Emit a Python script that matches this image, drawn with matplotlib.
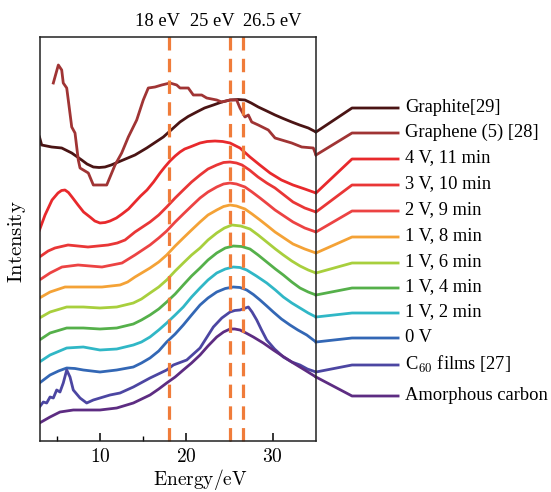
import matplotlib
matplotlib.use("Agg")
import matplotlib.pyplot as plt

plt.rcParams["mathtext.fontset"] = "cm"
plt.rcParams["font.family"] = ["Liberation Serif", "DejaVu Serif"]

# ---- spectra: energy (eV) and stacked intensity (arb. units) ----
graphite_e = [3.0, 3.25, 4.41, 5.57, 6.73, 7.88, 8.5, 9.23, 9.9, 10.58, 11.3, 12.12, 14.05,
              15.41, 17.33, 19.26, 20.2, 21.19, 22.1, 23.12, 24.1, 25.05, 26.0, 26.78, 27.5,
              28.32, 29.3, 30.26, 31.2, 32.19, 33.1, 34.11, 35.0]
graphite_i = [304, 296, 294, 293, 288, 281, 277, 274, 273.5, 274, 276, 279, 286,
              293, 304, 319, 324.5, 329, 333, 336, 339, 341, 341.5, 341, 338,
              334, 330, 326, 322.5, 319, 316, 313, 309]

graphene_e = [4.6, 5.18, 5.57, 5.75, 6.15, 6.33, 6.73, 7.11, 7.49, 7.69, 8.65, 9.23, 10.78,
              11.74, 12.51, 13.28, 14.25, 15.01, 15.59, 16.37, 17.14, 18.1, 18.88, 19.26,
              20.22, 20.8, 21.77, 22.35, 23.51, 24.09, 25.05, 25.82, 26.2, 26.78, 27.17,
              27.56, 28.32, 29.48, 30.26, 31.03, 32.19, 33.35, 34.69, 35.0]
graphene_i = [358, 376, 371, 358, 353, 341, 314, 308, 281, 273, 268, 256, 256,
              276, 288, 304, 321, 341, 353, 354, 356, 358, 356, 353,
              353, 346, 346, 343, 341, 339, 341, 341, 333, 324, 326,
              319, 316, 311, 303, 301, 298, 294, 293, 286]

v4_e = [3.0, 3.64, 4.45, 5.14, 5.55, 5.95, 6.35, 6.76, 7.46, 8.1, 8.84, 9.4, 10.0, 10.6,
        11.16, 11.9, 12.55, 13.3, 14.05, 14.7, 15.44, 16.2, 16.95, 17.5, 18.1, 18.7, 19.26,
        19.8, 20.42, 21.58, 22.4, 23.31, 24.2, 25.05, 26.2, 27.36, 28.5, 29.68, 31.0,
        32.34, 33.7, 35.0]
v4_i = [211, 226, 241, 248, 250.5, 251, 248.5, 244, 236, 229, 224, 220, 218, 218.5,
        220, 223, 227, 232, 239, 245, 251, 259, 268, 274, 280, 285, 289,
        292, 294, 298, 299.5, 300, 299.5, 298, 293, 284, 276, 268, 261,
        256, 252, 248]

v3_e = [3.0, 4.0, 4.79, 6.3, 8.61, 10.93, 12.0, 12.9, 14.05, 15.79, 16.8, 17.72, 18.7,
        19.64, 20.6, 21.58, 22.5, 23.51, 24.3, 25.05, 25.8, 26.44, 27.3, 28.29, 29.3,
        30.26, 31.3, 32.34, 33.7, 35.0]
v3_i = [184, 190, 193, 196, 194, 196, 198, 201, 209, 219, 226, 234, 243,
        251, 259, 266, 272, 276, 278.5, 279, 278, 276, 271, 264, 258,
        253, 246, 239, 233, 229]

v2_e = [3.0, 4.22, 5.6, 7.46, 10.23, 12.55, 14.05, 15.79, 16.8, 17.72, 18.7, 19.64, 20.6,
        21.58, 22.5, 23.51, 24.3, 25.05, 25.8, 26.78, 27.6, 28.52, 29.4, 30.26, 31.3,
        32.34, 33.7, 35.0]
v2_i = [161, 168, 174, 176, 174, 178, 186, 196, 203, 210, 219, 227, 235,
        243, 249, 254, 257, 258, 257, 254, 249, 243, 237, 231, 225,
        219, 213, 209]

m8_e = [3.0, 4.22, 5.95, 8.0, 10.23, 12.32, 13.2, 14.05, 15.79, 16.8, 17.72, 18.7, 19.64,
        20.6, 21.58, 22.5, 23.51, 24.3, 25.05, 25.8, 26.78, 27.6, 28.52, 29.4, 30.26,
        31.3, 32.34, 33.7, 35.0]
m8_i = [143, 149, 154, 154, 154, 156, 159, 164, 173, 179, 186, 195, 203,
        211, 219, 226, 231, 234.5, 236, 235, 232, 227, 221, 215, 209,
        203, 197, 192, 188]

m6_e = [3.0, 4.22, 6.15, 8.07, 10.0, 11.94, 12.9, 13.86, 14.8, 15.79, 16.8, 17.72, 18.7,
        19.64, 20.6, 21.58, 22.5, 23.51, 24.4, 25.28, 26.3, 27.36, 28.3, 29.3, 30.3,
        31.22, 32.2, 33.15, 34.1, 35.0]
m6_i = [123, 129, 134, 134, 133, 134, 136, 138, 142, 148, 154, 161, 170,
        178, 186, 193, 201, 208, 213, 216, 215, 212, 206, 199, 192,
        186, 180, 175, 171, 168]

m4_e = [3.0, 4.22, 6.15, 8.07, 10.0, 11.94, 12.9, 13.86, 14.8, 15.79, 16.8, 17.72, 18.7,
        19.64, 20.6, 21.58, 22.5, 23.51, 24.5, 25.43, 26.4, 27.36, 28.3, 29.3, 30.3,
        31.22, 32.2, 33.15, 34.1, 35.0]
m4_i = [101, 108, 113, 113, 112, 113, 115, 117, 121, 126, 132, 139, 147,
        156, 165, 173, 181, 188, 193, 195, 194.5, 192, 186, 179, 172,
        166, 159, 153, 149, 146]

m2_e = [3.0, 4.22, 6.15, 8.07, 10.0, 11.94, 12.9, 13.86, 14.8, 15.79, 16.8, 17.72, 18.7,
        19.64, 20.6, 21.58, 22.5, 23.51, 24.5, 25.43, 26.2, 26.98, 28.1, 29.3, 30.3,
        31.22, 32.2, 33.15, 34.1, 35.0]
m2_i = [79, 86, 93, 94, 91, 92, 94, 96, 99, 104, 111, 118, 126,
        134, 144, 153, 161, 168, 172, 174, 173.5, 171, 165, 158, 151,
        144, 138, 133, 128, 124]

v0_e = [3.0, 4.22, 5.2, 6.15, 7.1, 8.07, 10.0, 11.94, 13.86, 14.8, 15.79, 16.8, 17.72,
        18.7, 19.64, 20.6, 21.58, 22.5, 23.51, 24.5, 25.43, 26.2, 26.98, 27.75, 28.52,
        29.3, 30.06, 31.0, 31.99, 32.9, 33.93, 35.0]
v0_i = [58, 66, 70, 73, 72.5, 71, 69, 71, 74, 78, 83, 90, 99,
        107, 116, 126, 136, 143, 149, 152.5, 154, 153.5, 151, 146.5, 141,
        135, 129, 122, 116, 111, 106, 99]

c60_e = [3.0, 3.44, 3.83, 4.22, 4.6, 4.99, 5.37, 5.75, 6.15, 6.53, 6.91, 7.69, 8.46, 9.23,
         10.0, 11.16, 12.32, 13.86, 15.79, 17.72, 18.49, 20.04, 21.58, 23.12, 24.1, 25.05,
         25.6, 26.2, 27.17, 27.6, 28.14, 28.7, 29.3, 30.2, 31.22, 32.2, 33.15, 34.0, 35.0]
c60_i = [34, 39, 38, 44, 43, 51, 49, 58, 71, 64, 51, 43, 38, 41,
         43, 46, 48, 54, 63, 71, 76, 81, 93, 114, 123, 129,
         130.5, 131, 134, 129, 121, 111, 101, 92, 84, 79, 76, 72, 69]

amor_e = [3.0, 4.22, 5.37, 6.91, 10.0, 11.94, 13.86, 15.79, 16.8, 17.72, 18.7, 19.64, 20.6,
          21.58, 22.5, 23.51, 24.3, 25.05, 25.6, 26.2, 26.9, 27.75, 28.9, 30.06, 31.2,
          32.37, 33.7, 35.0]
amor_i = [18, 24, 29, 31, 31, 33, 38, 46, 52, 58, 64, 71, 78,
          86, 95, 104, 109, 112, 112, 111, 108, 104, 98, 91, 84.5,
          78, 71, 64]

labels = ["Graphite[29]", "Graphene (5) [28]", "4 V, 11 min", "3 V, 10 min", "2 V, 9 min",
          "1 V, 8 min", "1 V, 6 min", "1 V, 4 min", "1 V, 2 min", "0 V",
          "C$_{60}$ films [27]", "Amorphous carbon"]
label_levels = [333, 308, 282, 256, 230, 204, 178, 153, 128, 103, 76, 45]
colors = ["#4a1414", "#a03434", "#e8292c", "#e93636", "#ec4343", "#f4a236",
          "#a8cf3d", "#55b04a", "#30b7c6", "#3367b5", "#4c46a2", "#5d2c82"]

marker_energies = [18, 25, 26.5]
marker_texts = ["18 eV", "25 eV", "26.5 eV"]
marker_text_x = [16.7, 23.0, 29.9]

series = [(graphite_e, graphite_i), (graphene_e, graphene_i), (v4_e, v4_i), (v3_e, v3_i),
          (v2_e, v2_i), (m8_e, m8_i), (m6_e, m6_i), (m4_e, m4_i), (m2_e, m2_i),
          (v0_e, v0_i), (c60_e, c60_i), (amor_e, amor_i)]

fig = plt.figure(figsize=(5.51, 4.92), dpi=100)
ax = fig.add_axes([39.5 / 551, 51 / 492, 276.5 / 551, 404.3 / 492])
ax.set_xlim(3, 35)
ax.set_ylim(0, 404.3)

# leader lines run from each curve's end out to its label
bend_x, flat_x, text_x = 39.17, 44.5, 45.3
for (e, i), lab, lvl, col in zip(series, labels, label_levels, colors):
    ax.plot(e, i, color=col, lw=2.0, solid_joinstyle="round", zorder=3)
    ax.plot([e[-1], bend_x, flat_x], [i[-1], lvl, lvl], color=col, lw=2.0,
            clip_on=False, zorder=3)
    ax.text(text_x, lvl + 1, lab, fontsize=13.3, va="center", ha="left", clip_on=False)

for xe, txt, tx in zip(marker_energies, marker_texts, marker_text_x):
    ax.plot([xe, xe], [0, 408], color="#f07c3a", lw=2.3, linestyle=(0, (4.2, 2.6)),
            clip_on=False, zorder=4)
    ax.text(tx, 420, txt, fontsize=13.3, ha="center", va="center", clip_on=False)

for sp in ax.spines.values():
    sp.set_linewidth(1.1)
    sp.set_color("#222222")
    sp.set_zorder(5)

ax.set_xticks([10, 20, 30])
ax.set_xticklabels(["$10$", "$20$", "$30$"], fontsize=14)
ax.set_xticks([5, 15, 25], minor=True)
ax.tick_params(axis="x", which="major", direction="in", length=6, width=1.1, pad=5)
ax.tick_params(axis="x", which="minor", direction="in", length=3.5, width=1.0)
ax.set_yticks([])

fig.text(200 / 551, 1 - 480 / 492, r"$\mathrm{Energy/eV}$", fontsize=14,
         ha="center", va="center")
fig.text(17 / 551, 1 - 242 / 492, r"$\mathrm{Intensity}$", fontsize=15,
         ha="center", va="center", rotation=90)

fig.savefig("out.png", dpi=100)
